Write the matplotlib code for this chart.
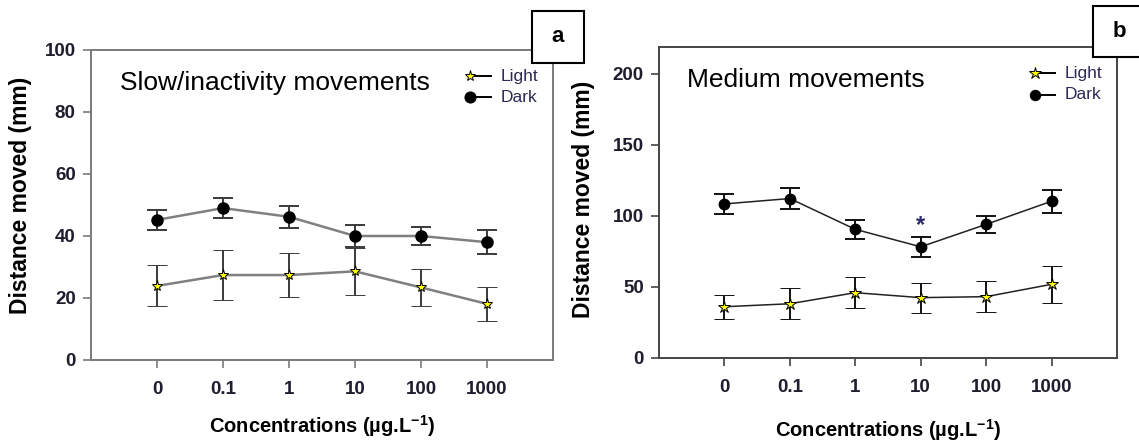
import matplotlib
matplotlib.use('Agg')
import matplotlib.pyplot as plt
from matplotlib.patches import Rectangle

# concentration groups (ug/L), plotted as evenly spaced categories
conc_labels = ['0', '0.1', '1', '10', '100', '1000']

# panel a: slow / inactivity movements
a_dark = [45.2, 49.0, 46.2, 40.0, 40.0, 38.0]
a_dark_err = [3.3, 3.2, 3.6, 3.6, 3.0, 3.8]
a_light = [23.9, 27.4, 27.4, 28.6, 23.4, 18.1]
a_light_err = [6.6, 8.2, 7.0, 7.5, 6.0, 5.6]

# panel b: medium movements
b_dark = [108.5, 112.3, 90.6, 78.3, 94.1, 110.4]
b_dark_err = [7.0, 7.3, 6.7, 7.0, 6.2, 8.0]
b_light = [36.1, 38.2, 46.0, 42.5, 43.2, 51.9]
b_light_err = [8.6, 11.0, 11.0, 10.6, 11.0, 13.0]
b_signif = [3]        # index of the group marked with *
b_signif_y = 93

ARIAL = ['Liberation Sans', 'DejaVu Sans']
TICKCOL = '#1e1e2e'
LEGCOL = '#2b2b55'

plt.rcParams['mathtext.fontset'] = 'custom'
plt.rcParams['mathtext.rm'] = 'Liberation Sans:bold'
plt.rcParams['mathtext.bf'] = 'Liberation Sans:bold'
plt.rcParams['mathtext.default'] = 'bf'

W, H = 1139, 446
fig = plt.figure(figsize=(W / 100, H / 100), dpi=100)


def draw_panel(ax, dark, dark_err, light, light_err, ymax, yticks, title,
               linecol, errcol, spinecol, lw, dark_ms, star_ms):
    x = list(range(len(conc_labels)))
    ax.errorbar(x, dark, yerr=dark_err, color=linecol, lw=lw, ecolor=errcol,
                elinewidth=1.4, capsize=7, capthick=1.4, marker='o',
                ms=dark_ms, mfc='black', mec='black', zorder=3)
    ax.errorbar(x, light, yerr=light_err, color=linecol, lw=lw, ecolor=errcol,
                elinewidth=1.4, capsize=7, capthick=1.4, marker='*',
                ms=star_ms, mfc='#ffff00', mec='black', mew=0.7, zorder=3)
    ax.set_xlim(-1, 6)
    ax.set_ylim(0, ymax)
    ax.set_xticks(x)
    ax.set_xticklabels(conc_labels)
    ax.set_yticks(yticks)
    for s in ax.spines.values():
        s.set_color(spinecol)
        s.set_linewidth(1.4)
    ax.tick_params(direction='out', length=6, width=1.2, color=spinecol,
                   top=False, right=False)
    ax.tick_params(axis='x', pad=9)
    ax.tick_params(axis='y', pad=5)
    for lab in ax.get_xticklabels() + ax.get_yticklabels():
        lab.set_family(ARIAL)
        lab.set_fontweight('bold')
        lab.set_fontsize(13.5)
        lab.set_color(TICKCOL)
    ax.set_ylabel('Distance moved (mm)', family=ARIAL, fontweight='bold',
                  fontsize=16.5, va='center')
    ax.set_xlabel('Concentrations (µg.L$^{-1}$)', family=ARIAL,
                  fontweight='bold', fontsize=14.5, va='center')
    ax.text(0.062, 0.895, title, transform=ax.transAxes, family=ARIAL,
            fontsize=19, va='center', ha='left')

    # legend: marker at left end of a short line
    for yy, mk, mfc, ms, lab in [(0.915, '*', '#ffff00', star_ms, 'Light'),
                                 (0.847, 'o', 'black', dark_ms, 'Dark')]:
        ax.plot([0.821, 0.865], [yy, yy], color='black', lw=1.4,
                transform=ax.transAxes, clip_on=False)
        ax.plot([0.821], [yy], marker=mk, ms=ms, mfc=mfc, mec='black',
                mew=0.7, transform=ax.transAxes, clip_on=False)
        ax.text(0.886, yy, lab, transform=ax.transAxes, family=ARIAL,
                fontsize=12.5, color=LEGCOL, va='center', ha='left')


ax_a = fig.add_axes([91 / W, 1 - 360 / H, 462 / W, 310 / H])
draw_panel(ax_a, a_dark, a_dark_err, a_light, a_light_err, 100,
           [0, 20, 40, 60, 80, 100], 'Slow/inactivity movements',
           '#808080', '#3a3a3a', '#7a7a7a', 1.8, 8, 8)
ax_a.xaxis.set_label_coords(0.5, -0.213)
ax_a.yaxis.set_label_coords(-0.152, 0.53)

ax_b = fig.add_axes([659 / W, 1 - 358 / H, 458 / W, 311 / H])
draw_panel(ax_b, b_dark, b_dark_err, b_light, b_light_err, 219,
           [0, 50, 100, 150, 200], 'Medium movements',
           '#222222', '#111111', '#444444', 1.1, 7.5, 9)
ax_b.xaxis.set_label_coords(0.5, -0.232)
ax_b.yaxis.set_label_coords(-0.165, 0.51)
for i in b_signif:
    ax_b.text(i, b_signif_y, '*', ha='center', va='center', fontsize=17,
              fontweight='bold', color='#2b2b6b', family=ARIAL)

# panel letters in boxes
for (x0, y0, x1, y1, letter) in [(532, 11, 584, 63, 'a'),
                                 (1093, 6, 1145, 57, 'b')]:
    fig.add_artist(Rectangle((x0 / W, 1 - y1 / H), (x1 - x0) / W,
                             (y1 - y0) / H, transform=fig.transFigure,
                             facecolor='white', edgecolor='black', lw=1.5,
                             zorder=5))
    fig.text((x0 + 26) / W, 1 - (y0 + y1) / 2 / H, letter, ha='center',
             va='center', fontsize=16, fontweight='bold', family=ARIAL,
             zorder=6)

fig.savefig('out.png', dpi=100)
